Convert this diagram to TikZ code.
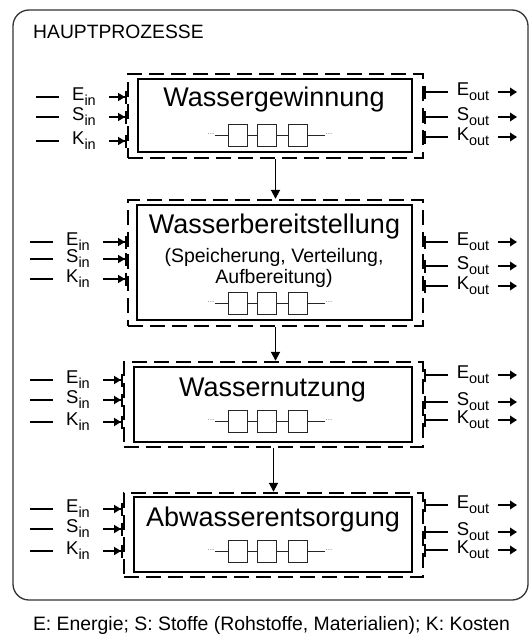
\documentclass[tikz,border=0pt]{standalone}
\usepackage{fontspec}
\setmainfont{Liberation Sans}
\usetikzlibrary{arrows.meta,positioning}

% Flussgroesse mit tiefgestelltem Index
\newcommand{\flussname}[2]{#1\raisebox{-5pt}{\fontsize{14.5}{15}\selectfont #2}}

\begin{document}
\begin{tikzpicture}[x=1pt,y=-1pt,
  rahmen/.style={draw=black!80, line width=1.3pt, rounded corners=16pt, minimum width=515pt, minimum height=590pt, inner sep=0pt},
  grenze/.style={draw, line width=2.4pt, dash pattern=on 15pt off 7pt, inner sep=0pt},
  prozess/.style={draw, line width=2.8pt, inner sep=0pt},
  titel/.style={font=\fontsize{27}{30}\selectfont, inner sep=0pt},
  untertitel/.style={font=\fontsize{19.5}{21}\selectfont, inner sep=0pt, align=center},
  glied/.style={draw=black!85, line width=1pt, minimum width=19pt, minimum height=22pt, inner sep=0pt},
  punkte/.style={text=black!55, font=\fontsize{8}{8}\selectfont, inner sep=0pt},
  fluss/.style={font=\fontsize{18.5}{20}\selectfont, inner sep=0pt, minimum width=50pt},
  linie/.style={line width=1.8pt},
  ein/.style={line width=1.8pt, -{Triangle[length=7pt,width=8pt]Bar[width=13pt]}},
  aus/.style={line width=1.8pt, {Bar[width=13pt]}-},
  pfeil/.style={line width=1.8pt, -{Triangle[length=7pt,width=8.5pt]}},
  fall/.style={line width=1.8pt, -{Triangle[length=9pt,width=9pt]}}
]
\useasboundingbox (0,0) rectangle (530,637);

% Rahmen
\node[rahmen] (rahmen) at (270.5,305) {};
\node[font=\fontsize{19.3}{21}\selectfont, anchor=west, inner sep=0pt] (kopf) at (33,32) {HAUPTPROZESSE};

% Prozesse (gestrichelte Grenze + Prozesskasten)
\node[grenze, minimum width=295pt, minimum height=84pt] (gew-grenze) at (275.5,116) {};
\node[prozess, minimum width=274pt, minimum height=73pt] (gew) at (275,115.5) {};
\node[titel] (gew-titel) at (274,100) {Wassergewinnung};

\node[grenze, minimum width=295pt, minimum height=126pt] (ber-grenze) at (275.5,263) {};
\node[prozess, minimum width=275pt, minimum height=115pt] (ber) at (274.5,262.5) {};
\node[titel] (ber-titel) at (274.5,227) {Wasserbereitstellung};
\node[untertitel] (ber-sub) at (274,268) {(Speicherung, Verteilung,\\Aufbereitung)};

\node[grenze, minimum width=299pt, minimum height=85pt] (nutz-grenze) at (273.5,404.5) {};
\node[prozess, minimum width=278pt, minimum height=75pt] (nutz) at (273,404.5) {};
\node[titel] (nutz-titel) at (272.5,390) {Wassernutzung};

\node[grenze, minimum width=299pt, minimum height=84pt] (abw-grenze) at (273.5,535) {};
\node[prozess, minimum width=278pt, minimum height=75pt] (abw) at (273,534.5) {};
\node[titel] (abw-titel) at (273,520) {Abwasserentsorgung};

% Teilprozesse (Kette)
\foreach \b/\y in {gew/135, ber/303, nutz/421, abw/551}{
  \foreach \i/\x in {1/237.5, 2/267, 3/297.5}
    \node[glied] (\b-q\i) at (\x,\y) {};
  \node[punkte] (\b-l) at (211,\y-1) {...};
  \node[punkte] (\b-r) at (329,\y-1) {...};
  \draw[line width=1pt, black!85] (\b-l.east |- \b-q1) -- (\b-q1) (\b-q1) -- (\b-q2) (\b-q2) -- (\b-q3) (\b-q3) -- (\b-r.west |- \b-q3);
}

% Ein- und Ausgaenge
\foreach \b/\lx/\ye/\ys/\yk/\ze/\zs/\zk in {gew/84/97/117/141/92/117/137, ber/78/242/259/279/242/266/286, nutz/78/380/400/422/375/402/420, abw/78/509/529/551/505/532/550}{
  \foreach \s/\y in {E/\ye, S/\ys, K/\yk}{
    \node[fluss] (\b-\s-ein) at (\lx,\y) {\flussname{\s}{in}};
    \coordinate (\b-\s-q) at (\lx-48,\y);
    \draw[linie] (\b-\s-q) -- (\b-\s-ein);
    \draw[ein] (\b-\s-ein) -- (\b-\s-ein -| \b-grenze.west);
  }
  \foreach \s/\y in {E/\ze, S/\zs, K/\zk}{
    \node[fluss] (\b-\s-aus) at (473,\y) {\flussname{\s}{out}};
    \coordinate (\b-\s-z) at (517,\y);
    \draw[aus] (\b-\s-aus -| \b-grenze.east) -- (\b-\s-aus);
    \draw[pfeil] (\b-\s-aus) -- (\b-\s-z);
  }
}

% Verbindungen
\draw[fall] (gew-grenze) -- (ber-grenze);
\draw[fall] (ber-grenze.south) -- (ber-grenze.south |- nutz-grenze.north);
\draw[fall] (nutz-grenze) -- (abw-grenze);

% Legende
\node[font=\fontsize{19.4}{21}\selectfont, inner sep=0pt] (legende) at (271.5,625) {E: Energie; S: Stoffe (Rohstoffe, Materialien); K: Kosten};

\end{tikzpicture}
\end{document}
